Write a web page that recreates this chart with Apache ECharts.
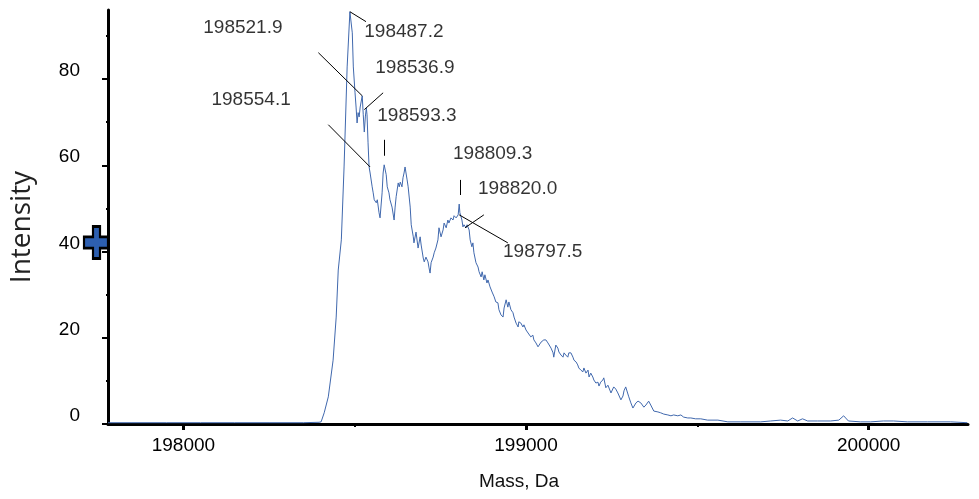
<!DOCTYPE html>
<html><head><meta charset="utf-8">
<script src="https://cdn.jsdelivr.net/npm/echarts@6/dist/echarts.min.js"></script>
<style>html,body{margin:0;padding:0;background:#fff}#c{width:979px;height:499px}</style>
</head><body><div id="c"></div>
<script>
const masses = [197780,197850,197950,198050,198150,198250,198350,198396,198402,198411,198423,198437,198446,198452,198461,198469,198478,198486,198493,198496,198501,198504,198507,198510,198513,198516,198519,198522,198525,198528,198531,198534,198536,198539,198542,198545,198551,198554,198557,198563,198566,198571,198574,198580,198583,198586,198592,198595,198600,198603,198609,198615,198618,198621,198627,198630,198633,198638,198641,198644,198647,198653,198656,198662,198665,198671,198673,198679,198685,198691,198694,198700,198703,198708,198714,198717,198720,198723,198729,198732,198737,198743,198746,198752,198758,198761,198767,198772,198775,198781,198787,198790,198796,198802,198805,198807,198813,198816,198819,198825,198828,198834,198837,198842,198845,198848,198854,198860,198863,198869,198872,198877,198880,198886,198889,198895,198901,198907,198912,198918,198921,198927,198933,198936,198942,198947,198950,198956,198962,198965,198971,198977,198979,198985,198991,198994,199000,199006,199009,199014,199020,199023,199029,199035,199038,199044,199049,199052,199058,199064,199067,199073,199079,199081,199087,199093,199096,199102,199108,199111,199116,199122,199125,199131,199137,199140,199146,199151,199154,199160,199166,199169,199175,199181,199184,199189,199195,199198,199204,199210,199213,199218,199224,199227,199233,199239,199242,199248,199256,199262,199268,199277,199283,199286,199291,199300,199306,199312,199315,199321,199327,199335,199344,199350,199358,199364,199373,199385,199393,199402,199414,199423,199431,199443,199452,199460,199472,199481,199495,199510,199530,199560,199589,199627,199685,199714,199743,199764,199778,199793,199807,199822,199851,199889,199913,199927,199941,199976,200006,200043,200073,200113,200172,200239,200288];
const intensities = [0.3,0.3,0.3,0.3,0.3,0.3,0.3,0.4,0.5,2.6,6.3,14.8,24.8,35.7,42.7,59.6,82.8,95.6,90.7,82.8,76.8,73.5,69.8,72.2,71.2,73.5,73.3,76.1,71.7,67.7,71.2,73.3,71.7,65.2,59.6,58.2,55.0,53.6,52.0,51.3,52.0,49.0,47.8,53.6,58.2,60.1,57.8,55.0,53.6,52.0,50.3,47.3,50.3,52.7,55.9,55.0,56.1,55.0,57.1,58.2,59.6,56.6,55.0,50.3,46.2,43.4,42.0,44.5,40.8,43.4,41.5,38.5,37.6,38.7,37.6,36.2,35.0,37.4,38.7,39.7,40.8,42.7,45.5,43.4,45.0,46.6,45.5,47.3,46.6,47.8,47.3,48.3,47.8,48.5,51.0,49.0,47.3,45.7,46.2,45.5,46.2,45.0,42.7,41.1,42.0,39.7,37.4,36.4,35.3,34.1,35.3,33.4,34.6,32.7,33.4,31.8,30.6,29.5,28.3,28.1,26.5,25.3,24.8,26.9,28.8,27.1,28.3,26.5,25.8,24.8,23.4,22.5,23.7,23.4,22.5,23.0,21.8,21.1,21.3,20.2,20.6,19.5,18.8,17.9,18.3,19.0,19.0,19.5,19.5,18.8,19.0,17.6,16.5,15.5,18.3,17.6,16.7,16.0,15.5,16.5,16.0,15.5,16.5,16.5,15.5,14.8,14.4,13.7,13.0,12.5,12.1,13.0,11.8,12.5,10.9,11.8,10.9,10.2,9.5,9.7,8.8,9.7,10.2,10.7,8.4,9.0,8.8,7.2,8.6,8.1,7.2,5.6,6.5,7.7,8.6,6.3,4.9,3.7,3.9,4.9,5.3,4.9,3.9,4.4,5.3,4.4,3.0,2.8,2.6,2.3,2.1,1.9,2.1,1.9,2.1,1.6,1.4,1.4,1.2,1.2,0.9,0.9,0.5,0.5,0.5,0.7,0.9,0.7,1.4,0.7,1.2,0.7,0.7,0.7,0.9,1.9,0.7,0.5,0.5,0.7,0.7,0.5,0.5,0.5,0.3];

const xTicks = [198000, 199000, 200000];
const xMinorTicks = [198500, 199500];
const yTicks = [0, 20, 40, 60, 80];
const yMinorTicks = [10, 30, 50, 70, 90];

const peakLabels = ['198487.2','198521.9','198536.9','198554.1','198593.3','198809.3','198820.0','198797.5'];
const labelMass = [198528, 198058, 198560, 198082, 198566, 198787, 198860, 198933];
const labelIntensity = [90.9, 91.9, 82.6, 75.2, 71.5, 62.6, 54.5, 39.9];
const leaderFrom = [[198486,95.6],[198394,86.1],[198583,76.8],[198423,69.4],[198586,65.9],[198807,56.6],[198877,48.5],[198805,48.5]];
const leaderTo = [[198533,93.3],[198522,76.1],[198528,72.9],[198545,59.6],[198586,62.2],[198807,53.1],[198822,45.5],[198947,42.0]];

const X_MIN = 197780, X_MAX = 200290, Y_MAX = 96;
const MARKER_LEVEL = 40;

const spectrum = masses.map((m, i) => [m, intensities[i]]);
const labelPoints = peakLabels.map((t, i) => ({ value: [labelMass[i], labelIntensity[i]], name: t }));
const leaders = leaderFrom.map((f, i) => [{ coord: f }, { coord: leaderTo[i] }]);

const FONT = '"Liberation Sans", Arial, sans-serif';
const chart = echarts.init(document.getElementById('c'), null, { renderer: 'canvas' });
chart.setOption({
  animation: false,
  backgroundColor: '#ffffff',
  grid: { left: 107, right: 11, top: 10, bottom: 75, containLabel: false },
  xAxis: [{
    type: 'value', min: X_MIN, max: X_MAX,
    name: 'Mass, Da', nameLocation: 'middle', nameGap: 48,
    nameTextStyle: { fontFamily: FONT, fontSize: 19, color: '#111', padding: [0, 38, 0, 0] },
    axisLine: { show: true, lineStyle: { color: '#000', width: 3 } },
    axisTick: { show: true, length: 6, lineStyle: { color: '#000', width: 3 }, customValues: xTicks },
    axisLabel: { show: true, customValues: xTicks, formatter: v => String(v), fontFamily: FONT, fontSize: 19, color: '#000', margin: 12 },
    splitLine: { show: false }
  }, {
    type: 'value', min: X_MIN, max: X_MAX, position: 'bottom',
    axisLine: { show: false },
    axisTick: { show: true, length: 3, lineStyle: { color: '#000', width: 2 }, customValues: xMinorTicks },
    axisLabel: { show: false },
    splitLine: { show: false }
  }],
  yAxis: [{
    type: 'value', min: 0, max: Y_MAX,
    name: 'Intensity', nameLocation: 'middle', nameGap: 72, nameRotate: 90,
    nameTextStyle: { fontFamily: '"Open Sans", sans-serif', fontSize: 28, color: '#222', padding: [0, 20, 0, 0] },
    axisLine: { show: true, lineStyle: { color: '#000', width: 3 } },
    axisTick: { show: true, length: 6, lineStyle: { color: '#000', width: 2 }, customValues: yTicks },
    axisLabel: { show: true, customValues: yTicks, fontFamily: FONT, fontSize: 19, color: '#000', margin: 28, verticalAlign: 'bottom', lineHeight: 16 },
    splitLine: { show: false }
  }, {
    type: 'value', min: 0, max: Y_MAX, position: 'left',
    axisLine: { show: false },
    axisTick: { show: true, length: 2, lineStyle: { color: '#000', width: 2 }, customValues: yMinorTicks },
    axisLabel: { show: false },
    splitLine: { show: false }
  }],
  series: [{
    type: 'line', data: spectrum, showSymbol: false, symbol: 'none',
    lineStyle: { color: '#4068ad', width: 1 },
    silent: true,
    markLine: {
      silent: true, symbol: ['none', 'none'], animation: false,
      lineStyle: { color: '#000', width: 1, type: 'solid' },
      label: { show: false },
      data: leaders
    },
    markPoint: {
      silent: true, animation: false,
      symbol: 'path://M9,0 L16,0 L16,11 L24,11 L24,23 L16,23 L16,34 L9,34 L9,23 L0,23 L0,11 L9,11 Z',
      symbolSize: [24, 32],
      symbolOffset: [-12, -9],
      itemStyle: { color: '#2d5fb0', borderColor: '#000', borderWidth: 2.5 },
      label: { show: false },
      data: [{ coord: [X_MIN, MARKER_LEVEL] }]
    }
  }, {
    type: 'scatter', data: labelPoints, symbolSize: 0, silent: true,
    label: {
      show: true, position: 'right', distance: 0,
      formatter: p => p.name,
      fontFamily: FONT, fontSize: 19, color: '#000'
    }
  }]
});
</script>
</body></html>
